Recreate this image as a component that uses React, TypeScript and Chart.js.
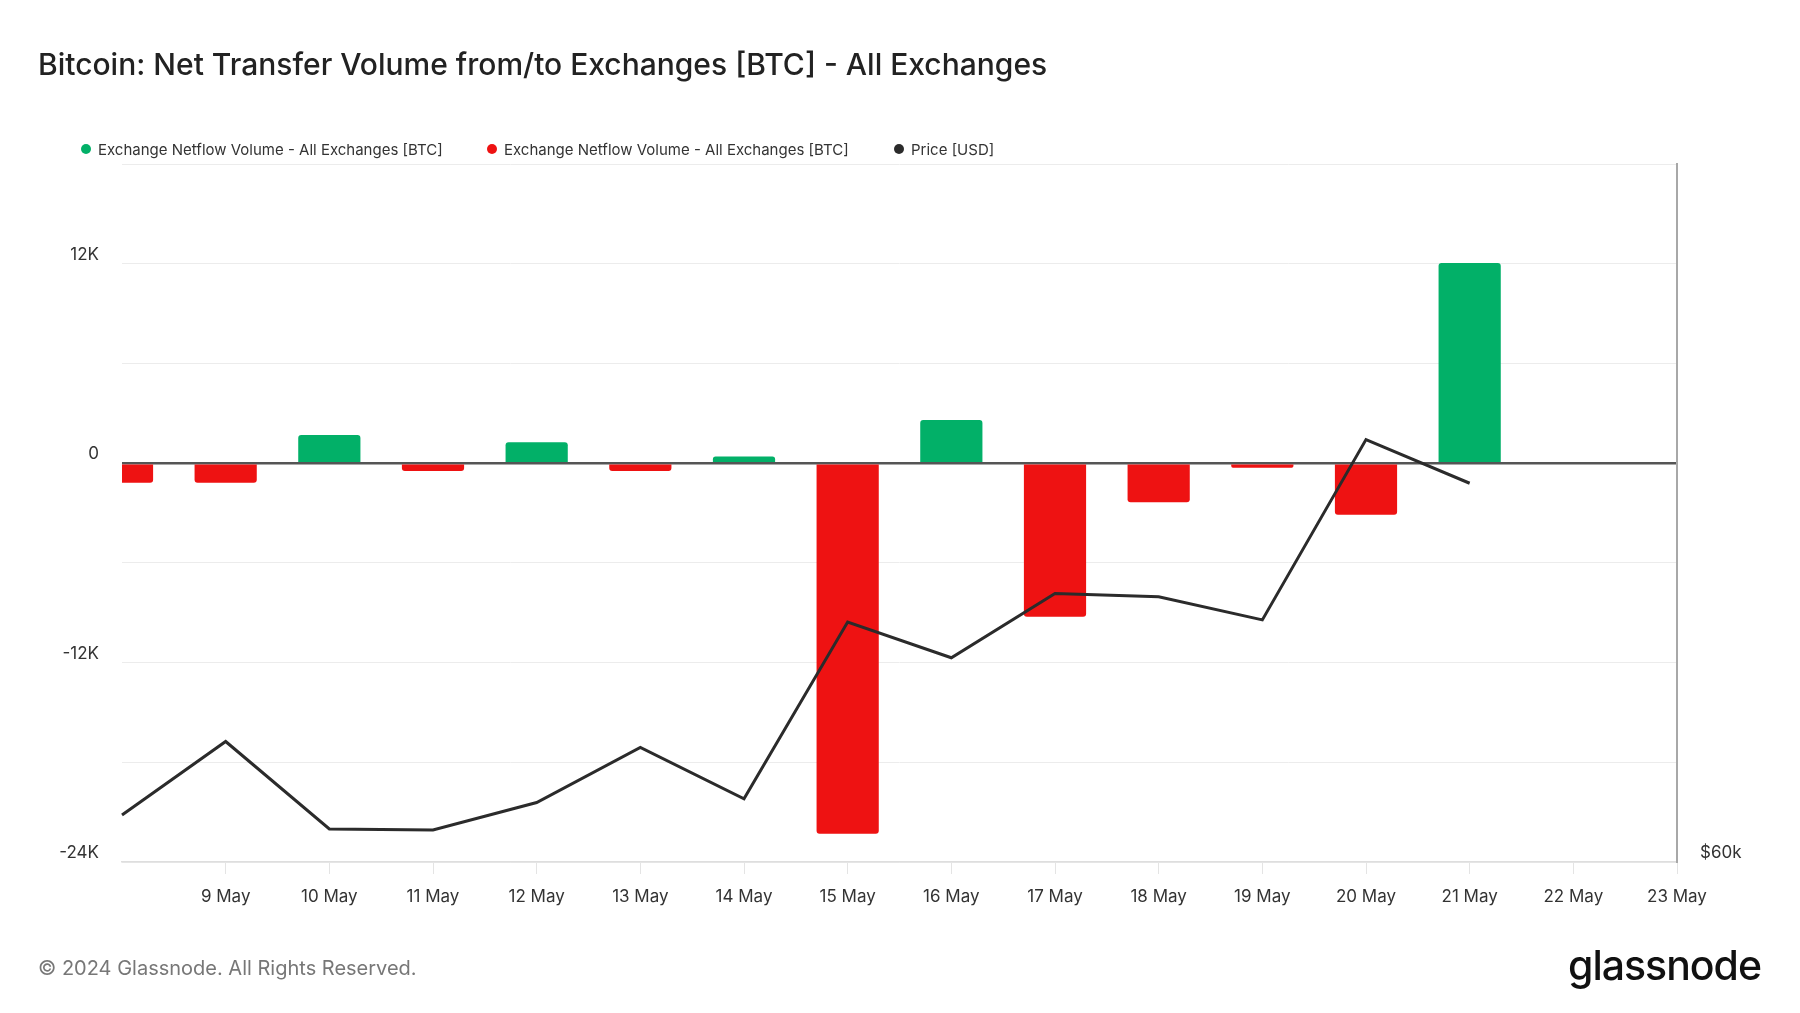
import React, { useEffect, useRef } from "react";
import { Chart, registerables } from "chart.js";

Chart.register(...registerables);

const dates = ["8 May", "9 May", "10 May", "11 May", "12 May", "13 May", "14 May", "15 May", "16 May", "17 May", "18 May", "19 May", "20 May", "21 May", "22 May", "23 May"];
const inflowBTC = [null, null, 1700, null, 1250, null, 400, null, 2600, null, null, null, null, 12050, null, null];
const outflowBTC = [-1180, -1180, null, -480, null, -480, null, -22300, null, -9250, -2350, -280, -3100, null, null, null];
const priceUSD = [61280, 63280, 60900, 60870, 61620, 63120, 61720, 66530, 65560, 67310, 67220, 66590, 71500, 70310, null, null];
const yTickLabels: Record<number, string> = { 12000: "12K", 0: "0", [-12000]: "-12K", [-24000]: "-24K" };
const priceTickLabels: Record<number, string> = { 60000: "$60k" };

const GREEN = "#02b068";
const RED = "#ee1212";
const DARK = "#2b2b2b";
const FONT = "Inter, 'Noto Sans', sans-serif";

export default function App() {
  const ref = useRef<HTMLCanvasElement | null>(null);

  useEffect(() => {
    document.body.style.margin = "0";
    Chart.defaults.font.family = FONT;
    const canvas = ref.current;
    if (!canvas) return;
    const chart = new Chart(canvas, {
      type: "bar",
      data: {
        labels: dates,
        datasets: [
          {
            type: "line",
            label: "Price [USD]",
            data: priceUSD,
            yAxisID: "y1",
            borderColor: DARK,
            backgroundColor: DARK,
            borderWidth: 3,
            pointRadius: 0,
            tension: 0,
            order: 0,
          } as any,
          {
            label: "Exchange Netflow Volume - All Exchanges [BTC]",
            data: inflowBTC,
            backgroundColor: GREEN,
            borderRadius: 3,
            borderSkipped: "start",
            barPercentage: 0.6,
            categoryPercentage: 1,
            yAxisID: "y",
            order: 1,
          },
          {
            label: "Exchange Netflow Volume - All Exchanges [BTC]",
            data: outflowBTC,
            backgroundColor: RED,
            borderRadius: 3,
            borderSkipped: "start",
            barPercentage: 0.6,
            categoryPercentage: 1,
            yAxisID: "y",
            order: 1,
          },
        ],
      },
      options: {
        responsive: false,
        animation: false,
        layout: { padding: { top: 164, left: 0, right: 0, bottom: 0 } },
        plugins: {
          legend: { display: false },
          tooltip: { enabled: false },
          title: { display: false },
        },
        scales: {
          x: {
            type: "category",
            stacked: true,
            offset: false,
            grid: {
              offset: false,
              drawOnChartArea: false,
              drawTicks: true,
              tickLength: 12,
              color: (ctx: any) => (ctx.index === 0 ? "rgba(0,0,0,0)" : "#e4e4e4"),
            },
            border: { display: true, color: "#dedede", width: 1.5 },
            ticks: {
              autoSkip: false,
              maxRotation: 0,
              padding: 13,
              color: "#333",
              font: { size: 17, family: FONT },
              callback: (_v: any, i: number) => (i === 0 ? "" : dates[i]),
            },
            afterFit: (s: any) => {
              s.height = 151;
            },
          },
          y: {
            type: "linear",
            position: "left",
            stacked: true,
            min: -24000,
            max: 18000,
            grid: {
              drawTicks: false,
              color: (ctx: any) => (ctx.tick && ctx.tick.value === 0 ? "#555555" : "#ececec"),
              lineWidth: (ctx: any) => (ctx.tick && ctx.tick.value === 0 ? 2.5 : 1),
            },
            border: { display: false },
            ticks: {
              stepSize: 6000,
              padding: 23,
              labelOffset: -9,
              color: "#333",
              font: { size: 17, family: FONT },
              callback: (v: any) => (yTickLabels[v as number] !== undefined ? yTickLabels[v as number] : ""),
            },
            afterFit: (s: any) => {
              s.width = 122;
            },
          },
          y1: {
            type: "linear",
            position: "right",
            min: 60000,
            max: 79000,
            grid: { display: false, drawOnChartArea: false, drawTicks: false },
            border: { display: true, color: "#a8a8a8", width: 2 },
            ticks: {
              stepSize: 10000,
              padding: 23,
              labelOffset: -9,
              color: "#333",
              font: { size: 17, family: FONT },
              callback: (v: any) => (priceTickLabels[v as number] !== undefined ? priceTickLabels[v as number] : ""),
            },
            afterFit: (s: any) => {
              s.width = 123;
            },
          },
        },
      } as any,
    });
    return () => chart.destroy();
  }, []);

  const legendItems = [
    { color: GREEN, text: "Exchange Netflow Volume - All Exchanges [BTC]", x: 86 },
    { color: RED, text: "Exchange Netflow Volume - All Exchanges [BTC]", x: 492 },
    { color: DARK, text: "Price [USD]", x: 899 },
  ];

  return (
    <div style={{ position: "relative", width: 1800, height: 1013, background: "#fff", fontFamily: FONT, overflow: "hidden" }}>
      <canvas ref={ref} width={1800} height={1013} style={{ position: "absolute", left: 0, top: 0, width: 1800, height: 1013 }} />
      <div style={{ position: "absolute", left: 38, top: 44, fontSize: 30, fontWeight: 500, color: "#222", whiteSpace: "nowrap", lineHeight: "40px" }}>
        Bitcoin: Net Transfer Volume from/to Exchanges [BTC] - All Exchanges
      </div>
      {legendItems.map((it, i) => (
        <div key={i} style={{ position: "absolute", left: it.x - 5, top: 139, height: 20, display: "flex", alignItems: "center", whiteSpace: "nowrap" }}>
          <span style={{ display: "inline-block", width: 10, height: 10, borderRadius: 5, background: it.color, marginRight: 7 }} />
          <span style={{ fontSize: 15, color: "#333" }}>{it.text}</span>
        </div>
      ))}
      <div style={{ position: "absolute", left: 38, top: 954, fontSize: 20, color: "#777", whiteSpace: "nowrap", lineHeight: "28px" }}>
        © 2024 Glassnode. All Rights Reserved.
      </div>
      <div style={{ position: "absolute", left: 1568, top: 940, fontSize: 41, fontWeight: 500, color: "#111", whiteSpace: "nowrap", letterSpacing: -1, lineHeight: "50px" }}>
        glassnode
      </div>
    </div>
  );
}
